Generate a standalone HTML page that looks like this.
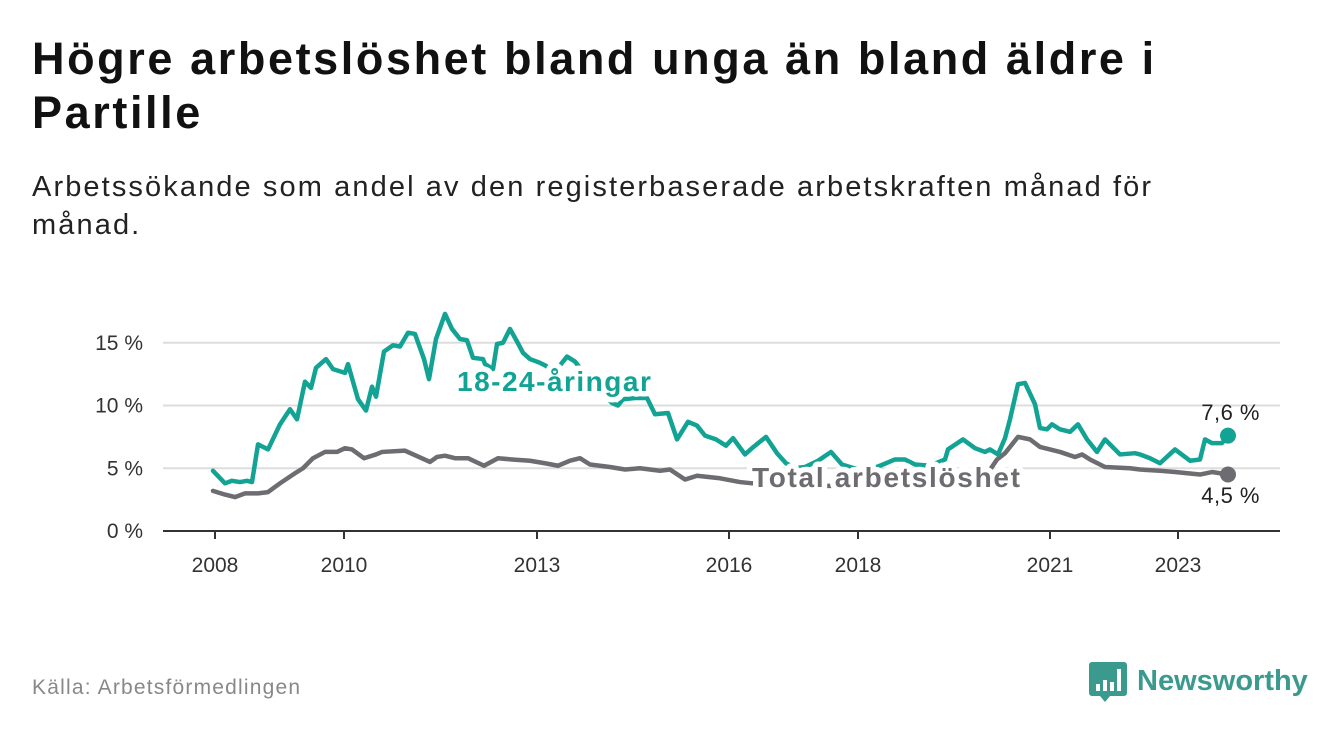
<!DOCTYPE html>
<html><head><meta charset="utf-8"><style>
body{margin:0;width:1340px;height:734px;background:#fff;font-family:"Liberation Sans",sans-serif;overflow:hidden;position:relative}
h1{position:absolute;left:32px;top:32px;margin:0;font-size:45px;line-height:54px;font-weight:bold;color:#111;letter-spacing:2.6px}
.sub{position:absolute;left:32px;top:168px;font-size:29px;line-height:38px;color:#222;width:1260px;letter-spacing:2.1px}
.src{position:absolute;left:32px;top:676px;font-size:21px;color:#888;letter-spacing:1.2px}
svg{position:absolute;left:0;top:0}
</style></head><body>
<h1>Högre arbetslöshet bland unga än bland äldre i<br>Partille</h1>
<div class="sub">Arbetssökande som andel av den registerbaserade arbetskraften månad för<br>månad.</div>
<div class="src">Källa: Arbetsförmedlingen</div>
<svg id="c" width="1340" height="734"></svg>
<script>
const youthX=[213,225,232,240,247,252,258,268,280,290,297,305,311,316,326,333,345,348,358,366,372,376,384,393,400,408,415,424,429,436,445,452,460,467,473,483,485,493,497,503,510,517,523,530,540,545,555,567,575,585,595,605,612,618,623,635,647,655,668,677,688,697,705,716,726,733,745,752,766,777,786,795,805,818,831,842,858,870,880,895,905,915,930,945,948,963,975,985,990,998,1005,1010,1018,1025,1035,1040,1047,1052,1060,1070,1078,1087,1097,1105,1120,1135,1140,1150,1160,1175,1190,1200,1205,1212,1222,1228];
const youthV=[4.8,3.8,4.0,3.9,4.0,3.9,6.9,6.5,8.5,9.7,8.9,11.9,11.4,13.0,13.7,12.9,12.6,13.3,10.5,9.6,11.5,10.7,14.3,14.8,14.7,15.8,15.7,13.7,12.1,15.3,17.3,16.1,15.3,15.2,13.8,13.7,13.3,12.9,14.9,15.0,16.1,15.1,14.2,13.7,13.4,13.2,12.7,13.9,13.5,12.5,11.5,10.8,10.2,10.0,10.5,10.6,10.6,9.3,9.4,7.3,8.7,8.4,7.6,7.3,6.8,7.4,6.1,6.6,7.5,6.2,5.4,5.0,5.1,5.6,6.3,5.3,4.9,4.9,5.2,5.7,5.7,5.3,5.2,5.7,6.5,7.3,6.6,6.3,6.5,6.1,7.4,8.9,11.7,11.8,10.1,8.2,8.1,8.5,8.1,7.9,8.5,7.3,6.3,7.3,6.1,6.2,6.1,5.8,5.4,6.5,5.6,5.7,7.3,7.0,7.0,7.6];
const totX=[213,225,235,245,258,268,280,295,303,313,325,337,345,352,364,376,382,405,430,437,445,455,468,484,498,512,530,545,558,570,580,590,610,625,640,660,670,685,697,720,740,752,780,820,860,900,940,980,997,1005,1018,1030,1040,1060,1075,1082,1090,1105,1130,1140,1160,1175,1200,1212,1228];
const totV=[3.2,2.9,2.7,3.0,3.0,3.1,3.8,4.6,5.0,5.8,6.3,6.3,6.6,6.5,5.8,6.1,6.3,6.4,5.5,5.9,6.0,5.8,5.8,5.2,5.8,5.7,5.6,5.4,5.2,5.6,5.8,5.3,5.1,4.9,5.0,4.8,4.9,4.1,4.4,4.2,3.9,3.8,3.7,3.6,3.6,3.6,3.6,3.7,5.7,6.2,7.5,7.3,6.7,6.3,5.9,6.1,5.7,5.1,5.0,4.9,4.8,4.7,4.5,4.7,4.5];
const yTicks=[0,5,10,15];
const xTickYears=[2008,2010,2013,2016,2018,2021,2023];
const xTickPos=[215,344,537,729,858,1050,1178];
const y=v=>531-v*12.55;
const NS="http://www.w3.org/2000/svg";
const svg=document.getElementById('c');
function mk(t,a,p){const e=document.createElementNS(NS,t);for(const k in a)e.setAttribute(k,a[k]);(p||svg).appendChild(e);return e;}
yTicks.forEach(v=>{
  if(v>0){const l=mk('line',{x1:163,x2:1280,y1:y(v),y2:y(v),stroke:'#ddd','stroke-width':2});
  
  }
  const t=mk('text',{x:143,y:y(v)+7,'text-anchor':'end','font-size':21,fill:'#333'});t.textContent=v+' %';
  
  
});
const ax=mk('line',{x1:163,x2:1280,y1:531,y2:531,stroke:'#333','stroke-width':2});


xTickYears.forEach((yr,i)=>{
  const x=xTickPos[i];
  const tk=mk('line',{x1:x,x2:x,y1:531,y2:539,stroke:'#333','stroke-width':2});
  
  
  const t=mk('text',{x:x,y:572,'text-anchor':'middle','font-size':21,fill:'#333'});t.textContent=yr;
  
  
});
function line(xs,vs,col,name){
  const d=xs.map((x,i)=>(i?'L':'M')+x+','+y(vs[i])).join('');
  const p=mk('path',{d:d,fill:'none',stroke:col,'stroke-width':4.5,'stroke-linejoin':'round','stroke-linecap':'round'});
  
  
  const n=xs.length-1;
  const c=mk('circle',{cx:xs[n],cy:y(vs[n]),r:8,fill:col});
  
  
}
line(totX,totV,'#6d6c70','total-line');
line(youthX,youthV,'#12a394','youth-line');
function lab(txt,x,yy,col,size,bold,anchor,name,halo,ls){
  const t=mk('text',{x:x,y:yy,'font-size':size,fill:col,'font-weight':bold?'bold':'normal','text-anchor':anchor||'start','letter-spacing':ls||0});
  if(halo){t.setAttribute('stroke','#fff');t.setAttribute('stroke-width',11);t.setAttribute('paint-order','stroke');t.setAttribute('stroke-linejoin','round');}
  t.textContent=txt;
  
  
}
lab('18-24-åringar',457,391,'#12a394',28,true,'start','youth-series-label',true,1.5);
lab('Total arbetslöshet',752,487,'#6d6c70',28,true,'start','total-series-label',true,1.7);
lab('7,6 %',1260,420,'#222',22,false,'end','youth-end-value',false,0.5);
lab('4,5 %',1260,503,'#222',22,false,'end','total-end-value',false,0.5);
const g=mk('g',{});


mk('path',{d:'M1092,662 h32 a3,3 0 0 1 3,3 v28 a3,3 0 0 1 -3,3 h-14 l-5,6 l-5,-6 h-8 a3,3 0 0 1 -3,-3 v-28 a3,3 0 0 1 3,-3z',fill:'#3a9a8e'},g);
mk('rect',{x:1096,y:684,width:4,height:7,fill:'#fff'},g);
mk('rect',{x:1103,y:680,width:4,height:11,fill:'#fff'},g);
mk('rect',{x:1110,y:682,width:4,height:9,fill:'#fff'},g);
mk('rect',{x:1117,y:669,width:4,height:22,fill:'#fff'},g);
const lt=mk('text',{x:1137,y:690,'font-size':29,fill:'#3a9a8e','font-weight':'bold'},g);lt.textContent='Newsworthy';
</script>
</body></html>
